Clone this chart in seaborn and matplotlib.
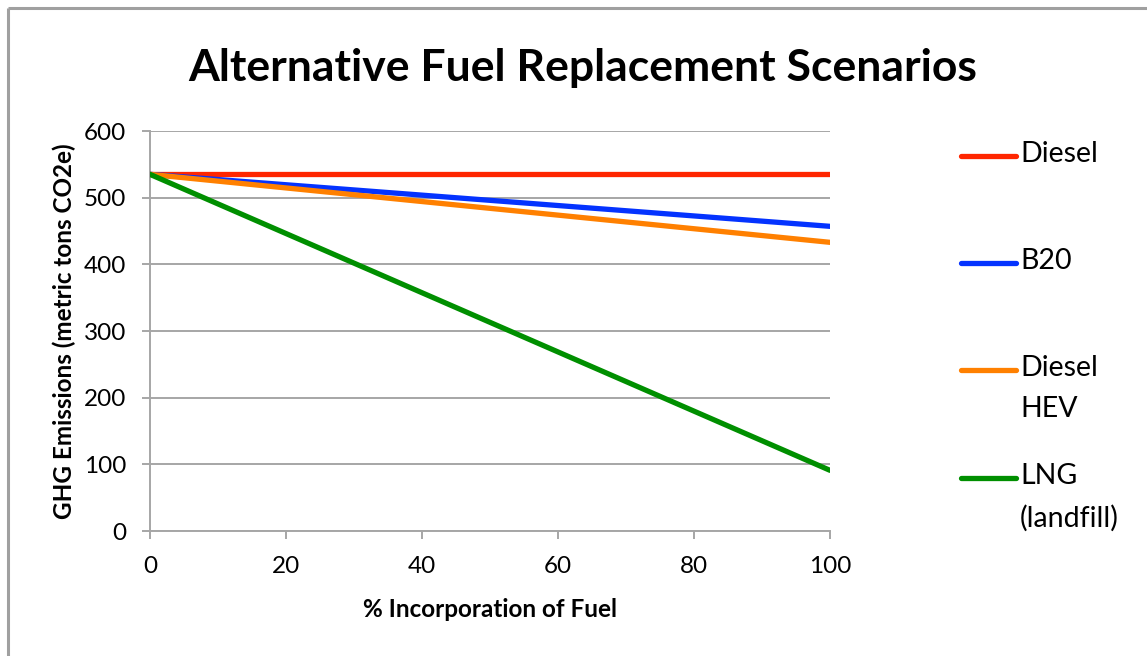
import numpy as np
import pandas as pd
import matplotlib
matplotlib.use("Agg")
import matplotlib.pyplot as plt
from matplotlib.lines import Line2D
import seaborn as sns

# Scenario data: % of fleet fuel replaced vs. total GHG emissions
incorporation = [0, 100]
diesel = [535, 535]
b20 = [535, 457]
diesel_hev = [535, 433]
lng_landfill = [535, 91]

series_names = ["Diesel", "B20", "Diesel\nHEV", "LNG\n(landfill)"]
series_values = [diesel, b20, diesel_hev, lng_landfill]
series_colors = ["#ff2600", "#0433ff", "#ff8000", "#008f00"]

y_ticks = [0, 100, 200, 300, 400, 500, 600]
x_ticks = [0, 20, 40, 60, 80, 100]

df = pd.DataFrame(
    [(x, v, name) for name, vals in zip(series_names, series_values)
     for x, v in zip(incorporation, vals)],
    columns=["pct", "ghg", "scenario"],
)

sns.set_theme(style="white")
plt.rcParams["font.family"] = ["Lato", "DejaVu Sans"]
plt.rcParams["text.color"] = "black"
plt.rcParams["axes.labelcolor"] = "black"

W, H = 1147, 656
fig = plt.figure(figsize=(W / 100, H / 100), dpi=100)
fig.patch.set_facecolor("white")
fig.patch.set_edgecolor("none")
fig.patch.set_linewidth(0)

# outer chart border: only the left and top edges fall inside the image
border = dict(transform=fig.transFigure, color="#a0a0a0", linewidth=2.2,
              solid_capstyle="butt")
fig.add_artist(Line2D([8 / W, 8 / W], [-0.05, 1 - 8 / H], **border))
fig.add_artist(Line2D([8 / W, 1.05], [1 - 8 / H, 1 - 8 / H], **border))

ax = fig.add_axes([150 / W, 1 - 531 / H, 680 / W, 400 / H])

sns.lineplot(data=df, x="pct", y="ghg", hue="scenario",
             palette=dict(zip(series_names, series_colors)),
             linewidth=3.8, legend=False, ax=ax, zorder=3)

ax.set_xlim(0, 100)
ax.set_ylim(0, 600)
ax.set_xticks(x_ticks)
ax.set_yticks(y_ticks)
ax.yaxis.grid(True, color="#a6a6a6", linewidth=1.4)
ax.xaxis.grid(False)
for side in ["top", "right"]:
    ax.spines[side].set_visible(False)
for side in ["left", "bottom"]:
    ax.spines[side].set_color("#a6a6a6")
    ax.spines[side].set_linewidth(1.4)
ax.tick_params(axis="both", which="major", direction="out", length=6,
               width=1.4, color="#a6a6a6", labelsize=17.5, labelcolor="black")
ax.tick_params(axis="x", bottom=True, pad=12)
ax.tick_params(axis="y", left=True, pad=11)

ax.set_xlabel("% Incorporation of Fuel", fontsize=17.5, fontweight="bold",
              labelpad=15, color="black")
ax.set_ylabel("GHG Emissions (metric tons CO2e)", fontsize=17.5,
              fontweight="bold", color="black")
ax.yaxis.set_label_coords(-0.108, 0.5)

fig.text(583 / W, 1 - 68 / H, "Alternative Fuel Replacement Scenarios",
         ha="center", va="center", fontsize=32, fontweight="bold",
         color="black")

# legend, one entry per scenario with the key line beside the first text line
legend_y = [156, 263, 370, 478]
for name, color, yy in zip(series_names, series_colors, legend_y):
    fig.add_artist(Line2D([961 / W, 1016 / W], [1 - yy / H, 1 - yy / H],
                          transform=fig.transFigure, color=color,
                          linewidth=3.8, solid_capstyle="round"))
    fig.text(1020 / W, 1 - (yy - 15) / H, name, ha="left", va="top",
             fontsize=20.5, linespacing=1.72, color="black")

fig.savefig("out.png", dpi=100, facecolor="white")
